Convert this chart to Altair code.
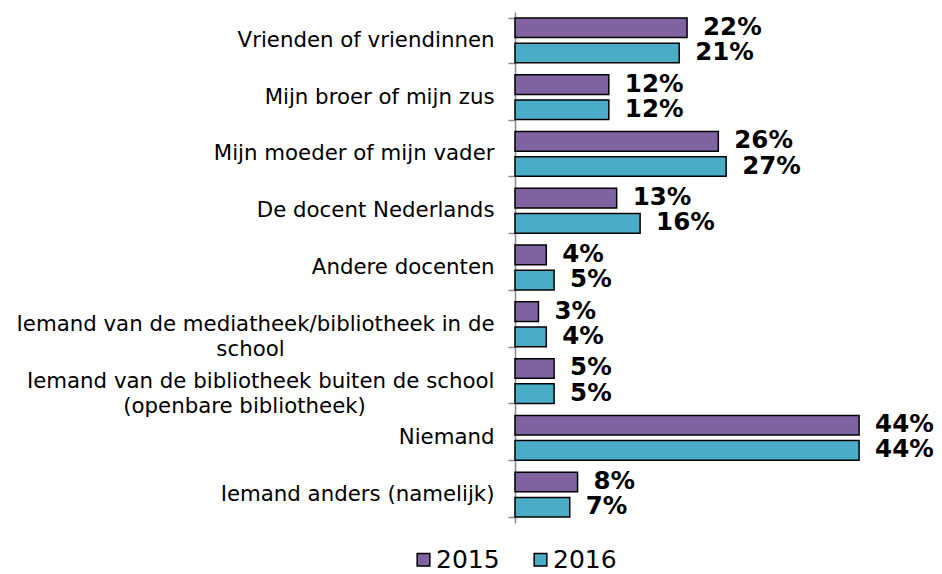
import altair as alt
import pandas as pd

PAD = "\u00a0"
END = "\u2060"
categories = [
    "Vrienden of vriendinnen",
    "Mijn broer of mijn zus",
    "Mijn moeder of mijn vader",
    "De docent Nederlands",
    "Andere docenten",
    "Iemand van de mediatheek/bibliotheek in de|school" + PAD * 31 + END,
    "Iemand van de bibliotheek buiten de school|(openbare bibliotheek)" + PAD * 19 + END,
    "Niemand",
    "Iemand anders (namelijk)",
]
values_2015 = [22, 12, 26, 13, 4, 3, 5, 44, 8]
values_2016 = [21, 12, 27, 16, 5, 4, 5, 44, 7]
years = ["2015", "2016"]
colors = ["#8064A2", "#4BACC6"]

rows = []
for c, a, b in zip(categories, values_2015, values_2016):
    rows.append({"cat": c, "year": "2015", "value": a, "label": f"{a}%"})
    rows.append({"cat": c, "year": "2016", "value": b, "label": f"{b}%"})
df = pd.DataFrame(rows)

FONT = "DejaVu Sans"

y_enc = alt.Y(
    "cat:N",
    sort=categories,
    scale=alt.Scale(paddingInner=0.21, paddingOuter=0.105),
    axis=alt.Axis(
        title=None,
        labelExpr="split(datum.label, '|')",
        labelFont=FONT,
        labelFontSize=21.3,
        labelColor="#000000",
        labelLineHeight=25,
        labelPadding=14,
        labelLimit=600,
        tickBand="extent",
        tickSize=7,
        tickColor="#888888",
        tickWidth=1.5,
        domainColor="#888888",
        domainWidth=1.5,
        grid=False,
    ),
)
x_enc = alt.X(
    "value:Q",
    scale=alt.Scale(domain=[0, 50]),
    axis=None,
)
yoff = alt.YOffset("year:N", sort=years, scale=alt.Scale(paddingInner=0.22))

bars = alt.Chart(df).mark_bar(stroke="#000000", strokeWidth=1.5).encode(
    y=y_enc,
    x=x_enc,
    yOffset=yoff,
    color=alt.Color(
        "year:N",
        sort=years,
        scale=alt.Scale(domain=years, range=colors),
        legend=alt.Legend(
            title=None,
            orient="none",
            legendX=-104,
            legendY=535,
            direction="horizontal",
            symbolType="square",
            symbolSize=160,
            symbolStrokeColor="#000000",
            symbolStrokeWidth=1.5,
            labelFont=FONT,
            labelFontSize=25,
            labelColor="#000000",
            labelOffset=0,
            columnPadding=28,
            padding=0,
        ),
    ),
)

texts = alt.Chart(df).mark_text(
    align="left", baseline="middle", dx=16, font=FONT, fontSize=24.5,
    fontWeight="bold", color="#000000"
).encode(
    y=y_enc,
    x=x_enc,
    yOffset=yoff,
    text="label:N",
)

chart = alt.layer(bars, texts).properties(
    width=391,
    height=511,
    background="#ffffff",
    autosize=alt.AutoSizeParams(type="none"),
    padding={"left": 507, "top": 4, "right": 28, "bottom": 52},
).configure_view(stroke=None, strokeWidth=0)

chart.save("out.html", embed_options={"renderer": "svg", "actions": False})
